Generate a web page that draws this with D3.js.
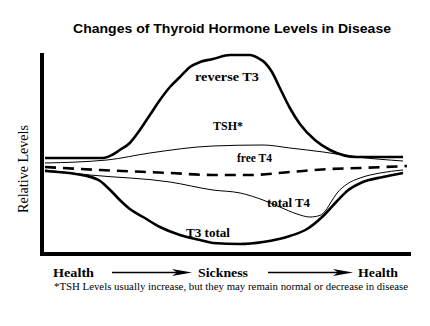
<!DOCTYPE html>
<html><head><meta charset="utf-8">
<script src="https://cdn.jsdelivr.net/npm/d3@7"></script>
<style>body{margin:0;background:#fff}svg{display:block}</style>
</head><body>
<svg id="c" width="430" height="326"></svg>
<script>
// ---- data (x: progression 0..100, y: relative level 0..100) ----
const reverseT3X = [0,16.2,18.7,20.9,23.7,26.5,29.3,32.1,34.9,37.7,40.5,43.3,46.9,51.7,57.3,59.5,61.5,63.4,65.6,68.4,71.2,75.4,79.6,87.2,100];
const reverseT3Y = [47.5,47.5,49,51.5,55,61.5,69,76.5,83,88,93,95.5,97,99,99,97.5,95,90.5,82.5,72.5,64.5,56.5,51.5,48,48];
const tshX = [0,17.3,29.3,46.9,60.9,68.4,77.7,87.2,100];
const tshY = [45,46.5,50,53.5,54,52.5,50.5,48,46];
const freeT4X = [0,15.4,34.9,46.9,57.3,68.4,79.6,88.0,101.1];
const freeT4Y = [43,41.5,40,39,39,40.5,42,42.5,43.5];
const totalT4X = [0,12.6,34.9,46.9,54.5,60.9,65.6,70.4,74.0,76.8,78.5,79.9,81.6,84.4,88.0,93.6,100];
const totalT4Y = [41.5,39,35.5,31.5,30,26.5,23,19.5,18,18.8,21.5,25.5,30,34.5,37.5,40,41.5];
const t3TotalX = [0,11.7,15.4,18.2,20.9,23.7,27.4,32.1,37.7,43.3,46.9,54.5,60.9,68.4,73.2,77.7,81.6,84.4,88.8,94.4,100];
const t3TotalY = [41,38.5,36,31.5,26.5,22,18,13,9,6.5,5,4.5,5.5,8.5,12,18.5,26,31,35.5,38,40];
const seriesNames = ["reverse T3","TSH*","free T4","total T4","T3 total"];
const stageLabels = ["Health","Sickness","Health"];
const title = "Changes of Thyroid Hormone Levels in Disease";
const yTitle = "Relative Levels";
const footnote = "*TSH Levels usually increase, but they may remain normal or decrease in disease";

const svg = d3.select("#c");
const x = d3.scaleLinear().domain([0,100]).range([45,403]);
const y = d3.scaleLinear().domain([0,100]).range([253,53]);
const line = d3.line().x(d=>x(d[0])).y(d=>y(d[1])).curve(d3.curveMonotoneX);
const zip = (a,b)=>a.map((v,i)=>[v,b[i]]);

const series = [
  {name:seriesNames[0], d:zip(reverseT3X,reverseT3Y), w:2.6, dash:null, lx:227, ly:81, len:64},
  {name:seriesNames[1], d:zip(tshX,tshY), w:1, dash:null, lx:228, ly:130, len:30},
  {name:seriesNames[2], d:zip(freeT4X,freeT4Y), w:2.6, dash:"11,7", lx:254.5, ly:162, len:35},
  {name:seriesNames[3], d:zip(totalT4X,totalT4Y), w:1, dash:null, lx:288.5, ly:207, len:43},
  {name:seriesNames[4], d:zip(t3TotalX,t3TotalY), w:2.6, dash:null, lx:208, ly:237, len:44}
];

// axes (plain thick lines, no ticks)
svg.append("line").attr("x1",42).attr("x2",42).attr("y1",53).attr("y2",256)
  .attr("stroke","#000").attr("stroke-width",4);
svg.append("line").attr("x1",40).attr("x2",411).attr("y1",254).attr("y2",254)
  .attr("stroke","#000").attr("stroke-width",4);

series.forEach(s=>{
  svg.append("path").attr("d",line(s.d)).attr("fill","none").attr("stroke","#000")
    .attr("stroke-width",s.w).attr("stroke-dasharray",s.dash);
  svg.append("text").attr("x",s.lx).attr("y",s.ly).attr("text-anchor","middle")
    .attr("font-family","'Liberation Serif','Times New Roman',serif").attr("font-weight","bold")
    .attr("font-size",12).attr("textLength",s.len).attr("lengthAdjust","spacingAndGlyphs").text(s.name);
});

svg.append("text").attr("x",232).attr("y",33).attr("text-anchor","middle")
  .attr("font-family","'Liberation Sans',Arial,sans-serif").attr("font-weight","bold")
  .attr("font-size",13.5).attr("textLength",318).attr("lengthAdjust","spacingAndGlyphs").text(title);

svg.append("text").attr("transform","translate(28,169) rotate(-90)").attr("text-anchor","middle")
  .attr("font-family","'Liberation Serif','Times New Roman',serif")
  .attr("font-size",15).attr("textLength",88).attr("lengthAdjust","spacingAndGlyphs").text(yTitle);

// stage labels and arrows
const stages = [{t:stageLabels[0],x:73.5,len:41},{t:stageLabels[1],x:223,len:50},{t:stageLabels[2],x:378,len:40}];
stages.forEach(s=>{
  svg.append("text").attr("x",s.x).attr("y",277).attr("text-anchor","middle")
    .attr("font-family","'Liberation Serif','Times New Roman',serif").attr("font-weight","bold")
    .attr("font-size",13.5).attr("textLength",s.len).attr("lengthAdjust","spacingAndGlyphs").text(s.t);
});
const arrows = [[112,192],[268,353]];
arrows.forEach(a=>{
  const ay=272.5;
  svg.append("line").attr("x1",a[0]).attr("x2",a[1]-15).attr("y1",ay).attr("y2",ay)
    .attr("stroke","#000").attr("stroke-width",1.6);
  svg.append("path").attr("d",`M${a[1]},${ay} L${a[1]-20},${ay-3.6} L${a[1]-15},${ay} L${a[1]-20},${ay+3.6} Z`)
    .attr("fill","#000");
});

svg.append("text").attr("x",54).attr("y",290)
  .attr("font-family","'Liberation Serif','Times New Roman',serif")
  .attr("font-size",10.5).attr("textLength",354).attr("lengthAdjust","spacingAndGlyphs").text(footnote);
</script>
</body></html>
